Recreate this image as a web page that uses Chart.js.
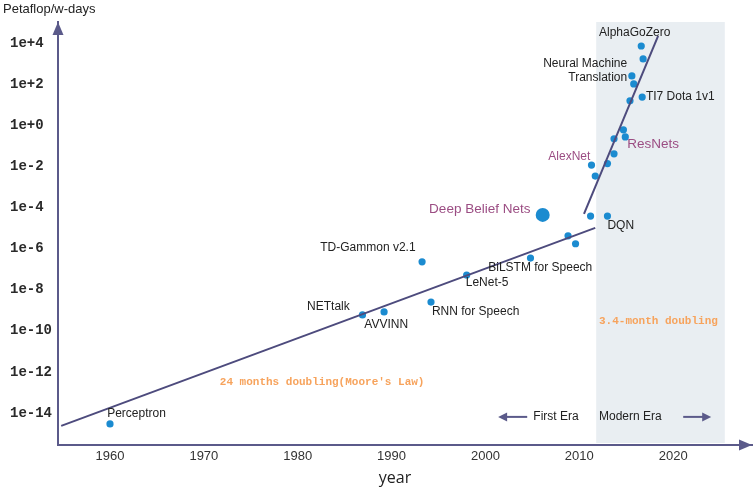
<!DOCTYPE html>
<html>
<head>
<meta charset="utf-8">
<script src="https://cdn.jsdelivr.net/npm/chart.js@4.4.1/dist/chart.umd.min.js"></script>
<style>
  body { margin: 0; background: #fff; }
  #wrap { width: 754px; height: 488px; }
</style>
</head>
<body>
<div id="wrap"><canvas id="aiCompute" width="754" height="488"></canvas></div>
<script>
// training compute of notable systems (petaflop/s-days)
const pointYears   = [1960.0, 1986.9, 1989.2, 1993.25, 1994.2, 1998.0, 2004.8, 2008.8, 2009.6,
                      2011.2, 2013.0, 2011.3, 2011.7, 2013.0, 2013.7, 2013.7, 2014.7, 2014.9,
                      2015.4, 2016.7, 2015.6, 2015.8, 2016.6, 2016.8];
const pointCompute = [2.6e-15, 5.4e-10, 7.6e-10, 2.1e-7, 2.3e-9, 4.8e-8, 3.2e-7, 3.9e-6, 1.6e-6,
                      3.6e-5, 3.6e-5, 1.1e-2, 3.2e-3, 1.3e-2, 3.9e-2, 0.21, 0.58, 0.26,
                      15, 23, 245, 100, 7100, 1660];
const dbnYear    = [2006.1];
const dbnCompute = [4.1e-5];

// trend lines
const firstEraYears    = [1954.8, 2011.7];
const firstEraCompute  = [2.1e-15, 9.5e-6];
const modernEraYears   = [2010.5, 2018.4];
const modernEraCompute = [4.6e-5, 2.2e4];
const modernEraSpan    = [2011.8, 2025.5];

const xTicks = [1960, 1970, 1980, 1990, 2000, 2010, 2020];
const yTicks = [1e-14, 1e-12, 1e-10, 1e-8, 1e-6, 1e-4, 1e-2, 1e0, 1e2, 1e4];
const yearRange    = [1954.46, 2028.4];
const computeRange = [2.45e-16, 1.05e5];

const AXIS = '#5b5a8a';
const DOT = '#1b8bd0';
const PURPLE = '#9b4d83';
const ORANGE = '#f7a35c';
const LABEL_FONT = '12px "Liberation Sans"';
const BIG_FONT = '13.5px "Liberation Sans"';

// text annotations: text, year, log10(compute), align, colour, font
const notes = [
  ['AlphaGoZero', 2012.1, 4.49, 'left', '#222', LABEL_FONT],
  ['Neural Machine', 2015.1, 2.98, 'right', '#222', LABEL_FONT],
  ['Translation', 2015.1, 2.29, 'right', '#222', LABEL_FONT],
  ['TI7 Dota 1v1', 2017.1, 1.37, 'left', '#222', LABEL_FONT],
  ['ResNets', 2015.1, -0.93, 'left', PURPLE, BIG_FONT],
  ['AlexNet', 2006.7, -1.56, 'left', PURPLE, LABEL_FONT],
  ['Deep Belief Nets', 1994.0, -4.13, 'left', PURPLE, BIG_FONT],
  ['DQN', 2013.0, -4.93, 'left', '#222', LABEL_FONT],
  ['TD-Gammon v2.1', 1982.4, -6.0, 'left', '#222', LABEL_FONT],
  ['BiLSTM for Speech', 2000.3, -6.98, 'left', '#222', LABEL_FONT],
  ['LeNet-5', 1997.9, -7.71, 'left', '#222', LABEL_FONT],
  ['RNN for Speech', 1994.3, -9.12, 'left', '#222', LABEL_FONT],
  ['AVVINN', 1987.1, -9.76, 'left', '#222', LABEL_FONT],
  ['NETtalk', 1981.0, -8.88, 'left', '#222', LABEL_FONT],
  ['Perceptron', 1959.7, -14.10, 'left', '#222', LABEL_FONT],
  ["24 months doubling(Moore's Law)", 1982.6, -12.54, 'center', ORANGE, 'bold 11px "Liberation Mono"'],
  ['3.4-month doubling', 2012.1, -9.56, 'left', ORANGE, 'bold 11px "Liberation Mono"'],
  ['First Era', 2005.1, -14.24, 'left', '#222', LABEL_FONT],
  ['Modern Era', 2012.1, -14.24, 'left', '#222', LABEL_FONT]
];
// era arrows: from year, to year, log10(compute)
const eraArrows = [[2004.45, 2001.35, -14.24], [2021.07, 2024.05, -14.24]];

function arrowHead(ctx, tipX, tipY, dir, len, half) {
  ctx.beginPath();
  if (dir === 'up') {
    ctx.moveTo(tipX, tipY);
    ctx.lineTo(tipX - half, tipY + len);
    ctx.lineTo(tipX + half, tipY + len);
  } else if (dir === 'right') {
    ctx.moveTo(tipX, tipY);
    ctx.lineTo(tipX - len, tipY - half);
    ctx.lineTo(tipX - len, tipY + half);
  } else {
    ctx.moveTo(tipX, tipY);
    ctx.lineTo(tipX + len, tipY - half);
    ctx.lineTo(tipX + len, tipY + half);
  }
  ctx.closePath();
  ctx.fill();
}

const decorations = {
  id: 'decorations',
  beforeDraw(chart) {
    const {ctx, chartArea, scales} = chart;
    const x0 = scales.x.getPixelForValue(modernEraSpan[0]);
    const x1 = scales.x.getPixelForValue(modernEraSpan[1]);
    ctx.save();
    ctx.fillStyle = '#e9eef2';
    ctx.fillRect(x0, chartArea.top, x1 - x0, chartArea.bottom - chartArea.top - 2);
    ctx.restore();
  },
  afterDraw(chart) {
    const {ctx, chartArea, scales} = chart;
    ctx.save();
    ctx.fillStyle = AXIS;
    arrowHead(ctx, chartArea.left, chartArea.top, 'up', 13, 5.5);
    arrowHead(ctx, chartArea.right, chartArea.bottom, 'right', 13, 5.5);

    ctx.textBaseline = 'middle';
    notes.forEach(n => {
      ctx.font = n[5];
      ctx.fillStyle = n[4];
      ctx.textAlign = n[3];
      ctx.fillText(n[0], scales.x.getPixelForValue(n[1]), scales.y.getPixelForValue(Math.pow(10, n[2])));
    });

    ctx.strokeStyle = AXIS;
    ctx.fillStyle = AXIS;
    ctx.lineWidth = 2;
    eraArrows.forEach(a => {
      const xa = scales.x.getPixelForValue(a[0]);
      const xb = scales.x.getPixelForValue(a[1]);
      const y = scales.y.getPixelForValue(Math.pow(10, a[2]));
      ctx.beginPath();
      ctx.moveTo(xa, y);
      ctx.lineTo(xb + (xb > xa ? -6 : 6), y);
      ctx.stroke();
      arrowHead(ctx, xb, y, xb > xa ? 'right' : 'left', 9, 4.5);
    });

    ctx.fillStyle = '#222';
    ctx.textAlign = 'left';
    ctx.font = '13px "Liberation Sans"';
    ctx.fillText('Petaflop/w-days', 3, 9);
    ctx.textAlign = 'center';
    ctx.font = '16px "Open Sans"';
    ctx.fillText('year', 395, 478);
    ctx.restore();
  }
};

const ctx = document.getElementById('aiCompute');
new Chart(ctx, {
  type: 'scatter',
  data: {
    datasets: [
      {
        data: firstEraYears.map((y, i) => ({x: y, y: firstEraCompute[i]})),
        showLine: true, borderColor: '#4d4b7d', borderWidth: 2, pointRadius: 0
      },
      {
        data: modernEraYears.map((y, i) => ({x: y, y: modernEraCompute[i]})),
        showLine: true, borderColor: '#4d4b7d', borderWidth: 2, pointRadius: 0
      },
      {
        data: pointYears.map((y, i) => ({x: y, y: pointCompute[i]})),
        backgroundColor: DOT, borderWidth: 0, pointRadius: 3.6
      },
      {
        data: dbnYear.map((y, i) => ({x: y, y: dbnCompute[i]})),
        backgroundColor: DOT, borderWidth: 0, pointRadius: 7
      }
    ]
  },
  options: {
    responsive: false,
    animation: false,
    events: [],
    layout: { autoPadding: false, padding: { left: 10, top: 22, right: 2, bottom: 0 } },
    plugins: { legend: { display: false }, tooltip: { enabled: false } },
    scales: {
      x: {
        type: 'linear',
        min: yearRange[0],
        max: yearRange[1],
        afterFit: s => { s.height = 43; },
        afterBuildTicks: s => { s.ticks = xTicks.map(v => ({value: v})); },
        grid: { display: false, drawTicks: false },
        border: { display: true, color: AXIS, width: 2 },
        ticks: {
          padding: 4,
          color: '#333',
          font: { family: 'Liberation Sans', size: 13 },
          callback: v => String(v)
        }
      },
      y: {
        type: 'logarithmic',
        min: computeRange[0],
        max: computeRange[1],
        afterFit: s => { s.width = 48; },
        afterBuildTicks: s => { s.ticks = yTicks.map(v => ({value: v})); },
        grid: { display: false, drawTicks: false },
        border: { display: true, color: AXIS, width: 2 },
        ticks: {
          crossAlign: 'far',
          labelOffset: 1,
          color: '#2a2a2a',
          font: { family: 'Liberation Mono', size: 14, weight: 'bold' },
          callback: v => {
            const e = Math.round(Math.log10(v));
            return '1e' + (e < 0 ? '-' : '+') + Math.abs(e);
          }
        }
      }
    }
  },
  plugins: [decorations]
});
</script>
</body>
</html>
